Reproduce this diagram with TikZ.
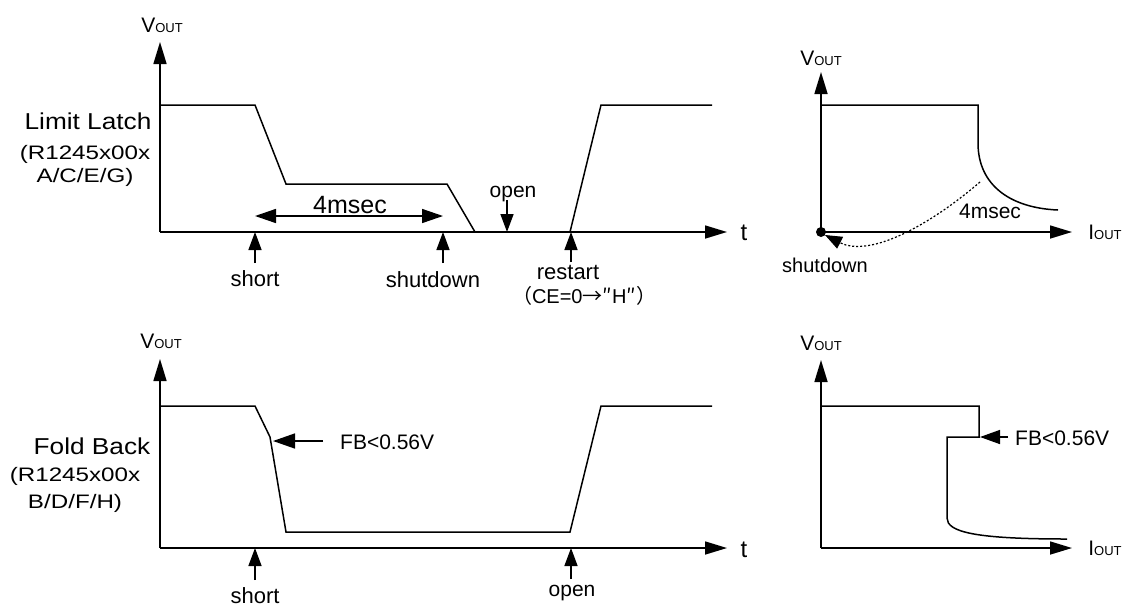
\documentclass[tikz,border=0pt]{standalone}
\usepackage{fontspec}
\setmainfont{Liberation Sans}
\newfontfamily\cjk{Noto Sans CJK JP}
\newfontfamily\wideA[FakeStretch=1.14]{Liberation Sans}
\newfontfamily\wideB[FakeStretch=1.24]{Liberation Sans}
\usetikzlibrary{arrows.meta}
\newcommand\fs[1]{\fontsize{#1}{#1}\selectfont}
\newcommand\vout{{\fs{21}V}{\fs{13}OUT}}
\newcommand\iout{{\fs{21}I}{\fs{13}OUT}}
\begin{document}
\begin{tikzpicture}[x=1pt,y=-1pt,
  axis/.style={line width=1.6pt,-{Triangle[length=22pt,width=13pt]}},
  wave/.style={line width=1.5pt},
  evarrow/.style={line width=1.5pt,-{Triangle[length=18pt,width=13pt]}},
  dimarrow/.style={line width=1.5pt,{Triangle[length=21pt,width=14pt]}-{Triangle[length=21pt,width=14pt]}},
  dotarrow/.style={line width=1.2pt,dash pattern=on 2pt off 2pt,-{Triangle[length=17pt,width=13pt]}},
  lbl/.style={inner sep=0pt,anchor=base,font=\fs{22}},
  lbls/.style={inner sep=0pt,anchor=base,font=\fs{21}},
  lblw/.style={inner sep=0pt,anchor=base west,font=\fs{21}}]
\useasboundingbox (0,0) rectangle (1123,606);

% ================= top-left: Limit Latch timing =================
\coordinate (o1) at (160,232);
\coordinate (y1) at (160,42);
\coordinate (x1) at (727,232);
\draw[axis] (o1) -- (y1);
\draw[axis] (o1) -- (x1);
\node[inner sep=0pt,anchor=base] (v1) at (162,32) {\vout};
\node[inner sep=0pt,anchor=base] (t1) at (744,240) {\fs{24}t};
\draw[wave] (160,105) -- (255,105) -- (286,184) -- (447,184) -- (475,232) -- (570,232) -- (601,105) -- (712,105);

\node[inner sep=0pt,anchor=base] (ll1) at (88,129) {\wideA\fs{23}Limit Latch};
\node[inner sep=0pt,anchor=base] (ll2) at (85,159) {\wideB\fs{19.5}(R1245x00x};
\node[inner sep=0pt,anchor=base] (ll3) at (85,182) {\wideB\fs{19.5}A/C/E/G)};

\coordinate (d1a) at (255,216);
\coordinate (d1b) at (443,216);
\draw[dimarrow] (d1a) -- (d1b);
\node[inner sep=0pt,anchor=base] (m1) at (350,213) {\fs{25}4msec};

\coordinate (s1t) at (255,263);
\coordinate (s1h) at (255,232);
\draw[evarrow] (s1t) -- (s1h);
\node[lbl] (short1) at (255,286) {short};

\coordinate (sd1t) at (443,263);
\coordinate (sd1h) at (443,232);
\draw[evarrow] (sd1t) -- (sd1h);
\node[lbl] (shut1) at (433,287) {shutdown};

\coordinate (op1t) at (507,200);
\coordinate (op1h) at (507,232);
\draw[evarrow] (op1t) -- (op1h);
\node[lbls] (open1) at (513,197) {open};

\coordinate (rs1t) at (571,262);
\coordinate (rs1h) at (571,232);
\draw[evarrow] (rs1t) -- (rs1h);
\node[lbl] (rest1) at (568,279) {restart};
\node[inner sep=0pt,anchor=base] (ce1) at (584,303) {\fs{20}{\cjk （}CE=0{\cjk →″}H{\cjk ″）}};

% ================= top-right: Limit Latch V-I =================
\coordinate (o2) at (821,232);
\coordinate (y2) at (821,72);
\coordinate (x2) at (1072,232);
\draw[axis] (o2) -- (y2);
\draw[axis] (o2) -- (x2);
\node[inner sep=0pt,anchor=base] (v2) at (821,65) {\vout};
\node[inner sep=0pt,anchor=base] (i2) at (1105,239) {\iout};
\draw[wave] (821,105) -- (978,105) -- (978,143) .. controls (978,185) and (1010,208) .. (1058,210);
\coordinate (dc1) at (980,182);
\coordinate (dc2) at (825,235);
\draw[dotarrow] (dc1) .. controls (930,225) and (870,258) .. (dc2);
\fill (o2) circle[radius=5pt];
\node[inner sep=0pt,anchor=base] (m2) at (990,218) {\fs{21}4msec};
\node[inner sep=0pt,anchor=base] (shut2) at (825,272) {\fs{20}shutdown};

% ================= bottom-left: Fold Back timing =================
\coordinate (o3) at (160,548);
\coordinate (y3) at (160,359);
\coordinate (x3) at (727,548);
\draw[axis] (o3) -- (y3);
\draw[axis] (o3) -- (x3);
\node[inner sep=0pt,anchor=base] (v3) at (161,348) {\vout};
\node[inner sep=0pt,anchor=base] (t3) at (744,557) {\fs{24}t};
\draw[wave] (160,406) -- (255,406) -- (270,437) -- (286,532) -- (570,532) -- (601,406) -- (712,406);

\node[inner sep=0pt,anchor=base] (fb1) at (92,454) {\wideA\fs{23}Fold Back};
\node[inner sep=0pt,anchor=base] (fb2) at (75,481) {\wideB\fs{19.5}(R1245x00x};
\node[inner sep=0pt,anchor=base] (fb3) at (75,508) {\wideB\fs{19.5}B/D/F/H)};

\coordinate (fa1t) at (323,441);
\coordinate (fa1h) at (273,441);
\draw[evarrow,-{Triangle[length=22pt,width=15pt]}] (fa1t) -- (fa1h);
\node[lblw] (fbl1) at (340,449) {FB<0.56V};

\coordinate (s3t) at (255,580);
\coordinate (s3h) at (255,548);
\draw[evarrow] (s3t) -- (s3h);
\node[lbl] (short3) at (255,603) {short};

\coordinate (op3t) at (571,579);
\coordinate (op3h) at (571,548);
\draw[evarrow] (op3t) -- (op3h);
\node[lbls] (open3) at (572,596) {open};

% ================= bottom-right: Fold Back V-I =================
\coordinate (o4) at (821,548);
\coordinate (y4) at (821,360);
\coordinate (x4) at (1072,548);
\draw[axis] (o4) -- (y4);
\draw[axis] (o4) -- (x4);
\node[inner sep=0pt,anchor=base] (v4) at (821,350) {\vout};
\node[inner sep=0pt,anchor=base] (i4) at (1105,555) {\iout};
\draw[wave] (821,406) -- (979,406) -- (979,437) -- (947,437) -- (947,518) .. controls (947,532) and (975,539) .. (1067,539);
\coordinate (fa4t) at (1008,437);
\coordinate (fa4h) at (980,437);
\draw[evarrow,-{Triangle[length=20pt,width=14pt]}] (fa4t) -- (fa4h);
\node[lblw] (fbl4) at (1015,445) {FB<0.56V};
\end{tikzpicture}
\end{document}
